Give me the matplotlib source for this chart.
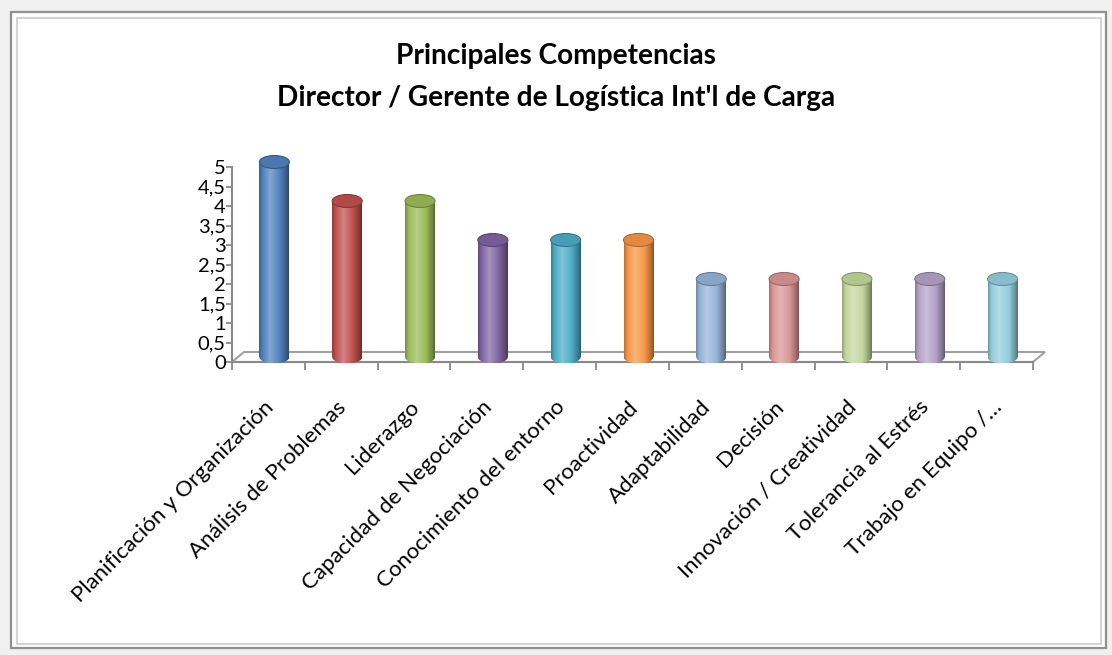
import numpy as np
import matplotlib
matplotlib.use("Agg")
import matplotlib.pyplot as plt
from matplotlib.patches import Rectangle, Ellipse, Polygon
from matplotlib.colors import to_rgb

plt.rcParams['font.family'] = ['Lato', 'DejaVu Sans']

# ---- data ----
title_lines = ["Principales Competencias", "Director / Gerente de Logística Int'l de Carga"]
categories = ['Planificación y Organización', 'Análisis de Problemas', 'Liderazgo',
              'Capacidad de Negociación', 'Conocimiento del entorno', 'Proactividad',
              'Adaptabilidad', 'Decisión', 'Innovación / Creatividad',
              'Tolerancia al Estrés', 'Trabajo en Equipo /…']
values = [5, 4, 4, 3, 3, 3, 2, 2, 2, 2, 2]
colors = ['#4F81BD', '#C0504D', '#9BBB59', '#8064A2', '#4BACC6', '#F79646',
          '#95B3D7', '#D99694', '#C3D69B', '#B3A2C7', '#93CDDD']
yticks = [0, 0.5, 1, 1.5, 2, 2.5, 3, 3.5, 4, 4.5, 5]
ytick_labels = ['0', '0,5', '1', '1,5', '2', '2,5', '3', '3,5', '4', '4,5', '5']

W, H = 1112, 655
fig = plt.figure(figsize=(W / 100, H / 100), dpi=100)
fig.patch.set_facecolor('#f0f0f0')

# frame (figure coords)
def fx(px): return px / W
def fy(py): return 1 - py / H
fig.patches.append(Rectangle((fx(11), fy(648)), fx(1106) - fx(11), fy(12) - fy(648),
                             transform=fig.transFigure, facecolor='white',
                             edgecolor='#8f8f8f', lw=1.6, zorder=-5))
fig.patches.append(Rectangle((fx(17), fy(644)), fx(1101) - fx(17), fy(18) - fy(644),
                             transform=fig.transFigure, facecolor='none',
                             edgecolor='#d4d4d4', lw=1.5, zorder=-4))

# axes geometry: x -0.5..10.5 -> px 232..1033 ; y 0..5 -> px 362..167
x_px0, x_px1 = 232, 1033
y0_px, y5_px = 362, 167
xmin, xmax = -0.5, 10.9
ymin, ymax = -0.7, 5.6
pxu_x = (x_px1 - x_px0) / 11.0
pxu_y = (y0_px - y5_px) / 5.0
left = x_px0 - (-0.5 - xmin) * pxu_x
right = x_px1 + (xmax - 10.5) * pxu_x
top = y5_px - (ymax - 5) * pxu_y
bottom = y0_px + (0 - ymin) * pxu_y
ax = fig.add_axes([fx(left), fy(bottom), fx(right) - fx(left), fy(top) - fy(bottom)])
ax.set_xlim(xmin, xmax)
ax.set_ylim(ymin, ymax)
ax.patch.set_alpha(0)

axis_col = '#8a8a8a'
for s in ['top', 'right']:
    ax.spines[s].set_visible(False)
ax.spines['left'].set_bounds(0, 5)
ax.spines['left'].set_position(('data', -0.5))
ax.spines['bottom'].set_position(('data', 0))
ax.spines['bottom'].set_bounds(-0.5, 10.5)
for s in ['left', 'bottom']:
    ax.spines[s].set_color(axis_col)
    ax.spines[s].set_linewidth(1.5)

ax.set_yticks(yticks)
ax.set_yticklabels(ytick_labels, fontsize=14.5)
ax.tick_params(axis='y', direction='out', length=4, width=1.3, color=axis_col, pad=0.5)
n = len(categories)
ax.set_xticks(np.arange(-0.5, n, 1.0))
ax.set_xticklabels([])
ax.tick_params(axis='x', direction='out', length=6, width=1.3, color=axis_col)

# floor (depth offsets)
ddx = 12 / pxu_x
ddy = 10 / pxu_y
floor = Polygon([(-0.5, 0), (10.5, 0), (10.5 + ddx, ddy), (-0.5 + ddx, ddy)],
                closed=True, facecolor='white', edgecolor='#a0a0a0', lw=1.5, zorder=1)
ax.add_patch(floor)

# cylinders
bw = 30 / pxu_x
eh = 13 / pxu_y
t = np.linspace(0, 1, 128)
prof = np.interp(t, [0, 0.12, 0.38, 0.7, 0.92, 1.0], [-0.25, 0.0, 0.30, 0.0, -0.30, -0.45])

def shade(c, k):
    c = np.array(c)
    if k >= 0:
        return c + (1 - c) * k
    return c * (1 + k)

for i, (v, col) in enumerate(zip(values, colors)):
    base = to_rgb(col)
    cx = i + ddx / 2
    by = ddy / 2
    x0, x1 = cx - bw / 2, cx + bw / 2
    grad = np.array([[shade(base, k) for k in prof]])
    body = Rectangle((x0, by), bw, v, transform=ax.transData)
    im = ax.imshow(grad, extent=[x0, x1, by, by + v], aspect='auto', zorder=3,
                   interpolation='bilinear')
    im.set_clip_path(body)
    bot = Ellipse((cx, by), bw, eh, transform=ax.transData)
    im2 = ax.imshow(grad, extent=[x0, x1, by - eh / 2, by + eh / 2], aspect='auto',
                    zorder=3, interpolation='bilinear')
    im2.set_clip_path(bot)
    ax.add_patch(Ellipse((cx, by + v), bw, eh, facecolor=shade(base, -0.08),
                         edgecolor=shade(base, -0.3), lw=0.8, zorder=4))

ax.set_xlim(xmin, xmax)
ax.set_ylim(ymin, ymax)

# category labels
for i, lab in enumerate(categories):
    ax.annotate(lab, xy=(i, 0), xycoords='data', xytext=(-5, -35),
                textcoords='offset pixels', rotation=45, ha='right', va='top',
                rotation_mode='anchor', fontsize=16, color='black',
                annotation_clip=False)

fig.text(0.5, fy(56), title_lines[0], ha='center', va='center', fontsize=20.2,
         fontweight='bold')
fig.text(0.5, fy(98), title_lines[1], ha='center', va='center', fontsize=20.2,
         fontweight='bold')

fig.savefig('out.png', dpi=100, facecolor=fig.get_facecolor())
